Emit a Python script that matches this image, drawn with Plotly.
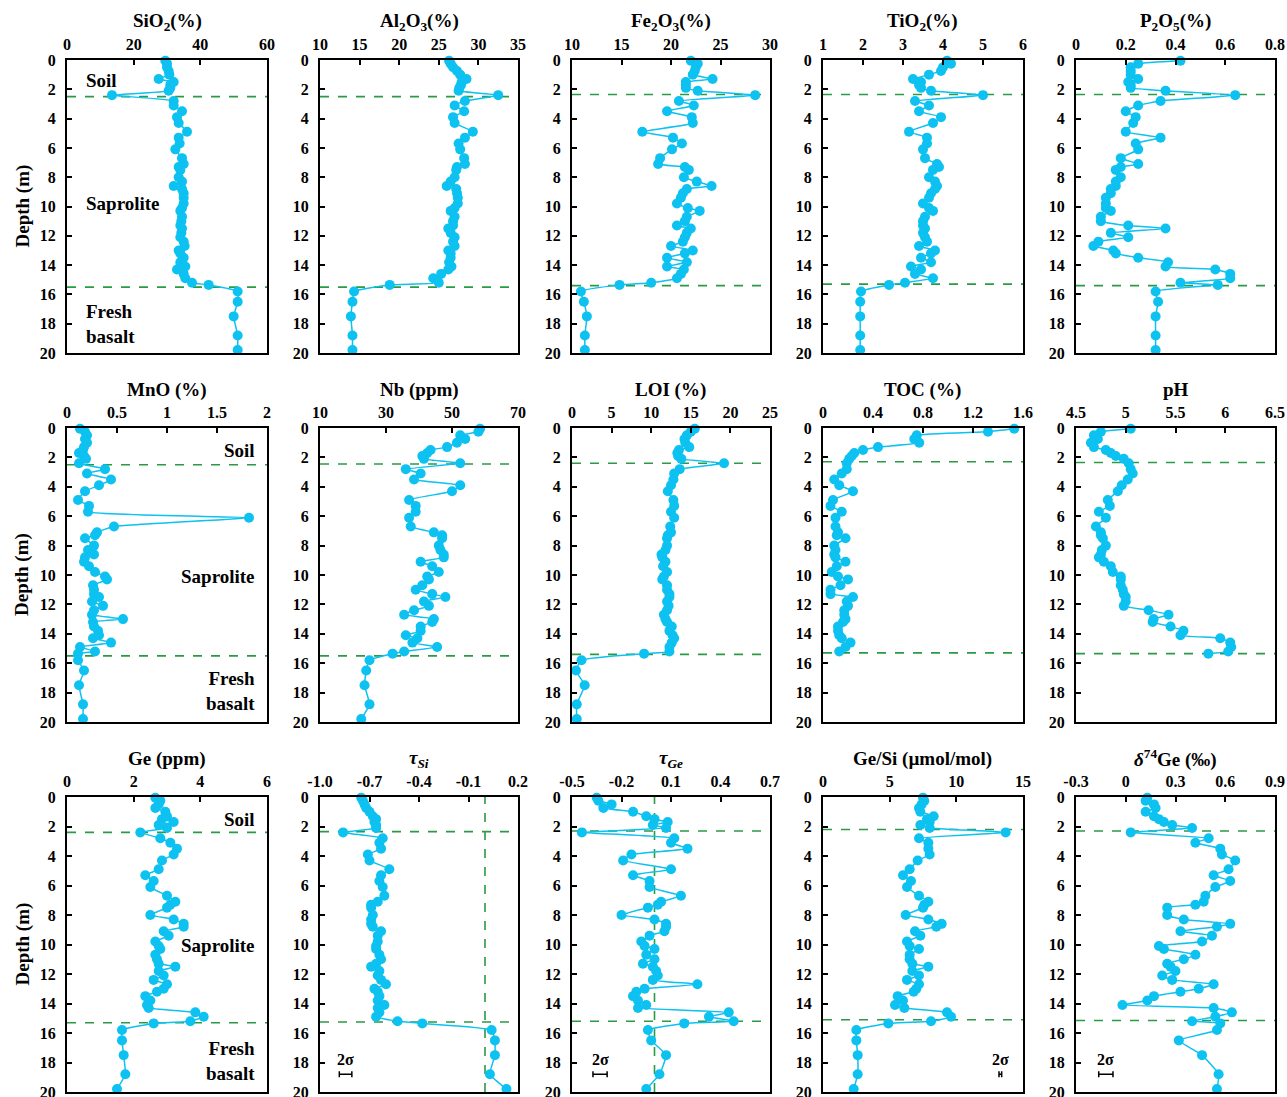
import plotly.graph_objects as go

W, H = 1287, 1097

depth = [0.05, 0.25, 0.5, 0.75, 1.0, 1.3, 1.5, 1.7, 1.9, 2.1,
         2.4, 2.8, 3.1, 3.5, 3.9, 4.3, 4.9, 5.3, 5.7, 6.1,
         6.7, 7.1, 7.3, 7.5, 8.0, 8.3, 8.6, 8.8, 9.1, 9.4,
         9.8, 10.1, 10.3, 10.7, 11.0, 11.3, 11.5, 11.8, 12.1, 12.4,
         12.7, 13.0, 13.2, 13.5, 13.8, 14.1, 14.3, 14.6, 14.9, 15.2,
         15.35, 15.8, 16.5, 17.5, 18.8, 19.8]

sio2 = [29.5, 30.0, 30.0, 30.5, 30.7, 27.5, 32.0, 31.0, 31.0, 30.5,
        13.5, 32.0, 32.0, 34.5, 33.0, 33.5, 36.0, 33.5, 33.8, 32.5,
        34.5, 35.0, 33.5, 34.0, 33.5, 34.5, 32.0, 34.5, 35.0, 35.0,
        35.0, 34.5, 34.0, 34.5, 34.3, 34.0, 34.5, 34.3, 34.0, 35.0,
        35.3, 33.5, 34.0, 35.0, 34.0, 35.5, 33.0, 35.0, 35.5, 37.5,
        42.5, 51.2, 51.2, 50.0, 51.2, 51.2]

al2o3 = [26.3, 26.5, 26.8, 27.3, 27.7, 28.5, 27.9, 27.8, 27.6, 27.5,
         32.5, 28.3, 27.0, 28.2, 26.8, 27.0, 29.3, 28.3, 27.5, 27.7,
         28.2, 28.3, 27.3, 27.2, 27.0, 26.5, 26.0, 27.2, 27.3, 27.4,
         27.4, 27.0, 26.5, 27.0, 26.8, 26.8, 26.2, 26.5, 27.0, 26.8,
         27.0, 26.2, 26.5, 26.5, 26.3, 26.6, 26.2, 25.3, 24.3, 25.0,
         18.8, 14.3, 14.1, 13.9, 14.1, 14.1]

fe2o3 = [22.0, 22.7, 22.5, 22.4, 22.2, 24.2, 21.5, 21.5, 21.5, 22.7,
         28.5, 20.8, 22.3, 19.6, 22.1, 22.2, 17.1, 20.2, 21.1, 20.1,
         18.9, 18.7, 21.4, 21.8, 21.3, 22.6, 24.1, 21.6, 21.2, 21.0,
         20.6, 21.7, 22.9, 21.6, 21.4, 20.6, 22.0, 21.6, 21.4, 21.2,
         20.0, 22.2, 21.4, 19.6, 21.6, 19.6, 21.3, 21.0, 20.6, 18.0,
         14.8, 10.9, 11.2, 11.5, 11.3, 11.3]

tio2 = [4.1, 4.2, 4.0, 3.95, 3.65, 3.25, 3.45, 3.4, 3.45, 3.7,
        5.0, 3.3, 3.65, 3.4, 3.95, 3.75, 3.15, 3.6, 3.6, 3.5,
        3.55, 3.85, 3.9, 3.75, 3.65, 3.8, 3.85, 3.8, 3.7, 3.65,
        3.5, 3.65, 3.75, 3.55, 3.5, 3.5, 3.55, 3.5, 3.55, 3.6,
        3.4, 3.8, 3.7, 3.45, 3.7, 3.2, 3.45, 3.3, 3.75, 3.05,
        2.65, 1.95, 1.93, 1.93, 1.93, 1.93]

p2o5 = [0.42, 0.25, 0.22, 0.22, 0.22, 0.25, 0.21, 0.22, 0.22, 0.36,
        0.64, 0.34, 0.25, 0.20, 0.24, 0.23, 0.20, 0.34, 0.24, 0.25,
        0.18, 0.25, 0.18, 0.16, 0.18, 0.16, 0.16, 0.14, 0.14, 0.12,
        0.12, 0.12, 0.14, 0.10, 0.10, 0.21, 0.36, 0.14, 0.21, 0.09,
        0.07, 0.15, 0.16, 0.25, 0.37, 0.36, 0.56, 0.62, 0.62, 0.42,
        0.57, 0.32, 0.33, 0.32, 0.32, 0.32]

mno = [0.13, 0.18, 0.20, 0.18, 0.20, 0.17, 0.16, 0.12, 0.17, 0.19,
       0.12, 0.38, 0.20, 0.44, 0.32, 0.18, 0.11, 0.22, 0.21, 1.82,
       0.47, 0.30, 0.28, 0.18, 0.27, 0.21, 0.27, 0.18, 0.17, 0.22,
       0.28, 0.38, 0.40, 0.26, 0.27, 0.27, 0.32, 0.25, 0.36, 0.27,
       0.25, 0.56, 0.26, 0.27, 0.31, 0.32, 0.26, 0.44, 0.13, 0.28,
       0.11, 0.11, 0.17, 0.12, 0.16, 0.16]

nb = [58.5, 58.0, 52.5, 54.0, 51.5, 48.5, 43.5, 42.5, 41.0, 41.5,
      52.5, 36.0, 40.5, 38.5, 52.5, 50.0, 37.0, 39.0, 39.0, 37.0,
      37.5, 44.5, 47.0, 47.0, 46.0, 46.5, 47.5, 47.5, 40.5, 44.0,
      46.0, 42.5, 43.0, 41.0, 39.0, 44.0, 48.0, 41.5, 43.0, 38.5,
      35.5, 44.5, 44.0, 40.5, 40.5, 36.0, 39.5, 38.0, 45.5, 35.5,
      32.0, 25.0, 24.0, 23.5, 25.0, 22.5]

loi = [15.5, 15.0, 14.5, 14.2, 14.3, 14.8, 13.5, 13.3, 13.4, 13.8,
       19.2, 13.6, 12.9, 12.8, 12.5, 12.1, 12.8, 12.9, 12.5, 12.9,
       12.4, 12.5, 12.1, 12.0, 12.0, 11.8, 11.3, 11.4, 11.8, 11.5,
       12.0, 11.6, 11.4, 12.0, 12.0, 12.3, 12.3, 12.0, 12.2, 12.0,
       11.6, 11.8, 12.0, 12.6, 12.3, 12.7, 12.9, 12.6, 12.3, 12.3,
       9.1, 1.2, 0.5, 1.6, 0.6, 0.6]

toc = [1.53, 1.32, 0.75, 0.73, 0.77, 0.44, 0.32, 0.25, 0.23, 0.21,
       0.19, 0.19, 0.15, 0.09, 0.13, 0.24, 0.08, 0.06, 0.15, 0.10,
       0.10, 0.12, 0.11, 0.18, 0.09, 0.10, 0.09, 0.10, 0.18, 0.11,
       0.07, 0.12, 0.20, 0.14, 0.06, 0.06, 0.24, 0.19, 0.20, 0.17,
       0.17, 0.18, 0.16, 0.12, 0.12, 0.13, 0.15, 0.22, 0.18, 0.13,
       None, None, None, None, None, None]

ph = [5.05, 4.75, 4.68, 4.72, 4.65, 4.68, 4.80, 4.85, 4.90, 4.98,
      5.03, 5.05, 5.07, 5.02, 4.96, 4.92, 4.82, 4.84, 4.73, 4.80,
      4.70, 4.75, 4.75, 4.77, 4.80, 4.76, 4.75, 4.73, 4.78, 4.85,
      4.87, 4.95, 4.95, 4.95, 4.97, 4.98, 5.00, 5.00, 4.98, 5.23,
      5.43, 5.28, 5.27, 5.45, 5.58, 5.55, 5.95, 6.05, 6.06, 6.03,
      5.83, None, None, None, None, None]

ge = [2.65, 2.8, 2.75, 2.65, 2.95, 3.0, 2.85, 3.2, 2.75, 3.0,
      2.2, 2.8, 3.1, 3.3, 3.2, 2.85, 2.75, 2.35, 2.6, 2.5,
      3.0, 3.25, 3.1, 3.0, 2.5, 3.2, 3.5, 3.5, 2.9, 3.05,
      2.65, 2.75, 2.8, 2.65, 2.7, 2.75, 3.25, 2.75, 2.9, 2.6,
      3.0, 2.9, 2.7, 2.35, 2.5, 2.4, 2.45, 3.85, 4.1, 3.7,
      2.6, 1.65, 1.65, 1.7, 1.75, 1.5]

tau_si = [-0.75, -0.74, -0.73, -0.72, -0.70, -0.68, -0.66, -0.67, -0.66, -0.66,
          -0.86, -0.62, -0.64, -0.63, -0.71, -0.70, -0.58, -0.63, -0.64, -0.62,
          -0.61, -0.65, -0.69, -0.69, -0.68, -0.69, -0.69, -0.68, -0.63, -0.65,
          -0.65, -0.66, -0.66, -0.64, -0.63, -0.66, -0.69, -0.64, -0.65, -0.63,
          -0.60, -0.67, -0.65, -0.64, -0.65, -0.61, -0.65, -0.64, -0.66, -0.53,
          -0.38, 0.04, 0.06, 0.06, 0.03, 0.13]

tau_ge = [-0.35, -0.34, -0.26, -0.31, -0.13, -0.05, 0.0, 0.08, -0.01, 0.07,
          -0.44, 0.12, 0.10, 0.20, -0.14, -0.19, 0.10, -0.13, -0.03, -0.03,
          0.16, 0.04, 0.02, -0.04, -0.20, 0.0, 0.07, 0.07, 0.06, -0.03,
          -0.08, -0.06, 0.0, -0.05, 0.0, -0.07, -0.01, 0.01, 0.02, -0.01,
          0.26, -0.06, -0.11, -0.13, -0.10, -0.05, -0.10, 0.45, 0.33, 0.48,
          0.18, -0.04, -0.02, 0.07, 0.03, -0.05]

ge_si = [7.5, 7.6, 7.4, 7.2, 7.3, 8.3, 7.8, 8.0, 7.3, 8.0,
         13.7, 7.2, 7.9, 7.9, 8.0, 7.1, 6.5, 6.0, 6.6, 6.3,
         7.2, 7.9, 7.6, 7.5, 6.2, 7.9, 8.9, 8.5, 6.9, 7.3,
         6.3, 6.5, 7.2, 6.5, 6.5, 6.7, 7.9, 6.7, 7.2, 6.3,
         7.2, 7.0, 6.8, 5.6, 6.0, 5.4, 6.1, 9.3, 9.6, 8.1,
         4.9, 2.5, 2.5, 2.6, 2.6, 2.3]

d74ge = [0.13, 0.12, 0.17, 0.18, 0.12, 0.17, 0.20, 0.23, 0.28, 0.40,
         0.03, 0.50, 0.42, 0.57, 0.58, 0.66, 0.62, 0.53, 0.63, 0.54,
         0.48, 0.47, 0.42, 0.25, 0.25, 0.35, 0.63, 0.55, 0.33, 0.52,
         0.46, 0.20, 0.23, 0.42, 0.35, 0.25, 0.27, 0.30, 0.22, 0.28,
         0.53, 0.44, 0.33, 0.17, 0.13, -0.02, 0.53, 0.64, 0.54, 0.40,
         0.57, 0.55, 0.32, 0.46, 0.56, 0.55]

titles = ["SiO<sub>2</sub>(%)", "Al<sub>2</sub>O<sub>3</sub>(%)", "Fe<sub>2</sub>O<sub>3</sub>(%)",
          "TiO<sub>2</sub>(%)", "P<sub>2</sub>O<sub>5</sub>(%)",
          "MnO (%)", "Nb (ppm)", "LOI (%)", "TOC (%)", "pH",
          "Ge (ppm)", "<i>τ</i><sub><i>Si</i></sub>", "<i>τ</i><sub><i>Ge</i></sub>",
          "Ge/Si (µmol/mol)", "<i>δ</i><sup>74</sup>Ge (‰)"]
series = [sio2, al2o3, fe2o3, tio2, p2o5, mno, nb, loi, toc, ph,
          ge, tau_si, tau_ge, ge_si, d74ge]
x_ticks = [[0, 20, 40, 60], [10, 15, 20, 25, 30, 35], [10, 15, 20, 25, 30],
           [1, 2, 3, 4, 5, 6], [0, 0.2, 0.4, 0.6, 0.8],
           [0, 0.5, 1, 1.5, 2], [10, 30, 50, 70], [0, 5, 10, 15, 20, 25],
           [0, 0.4, 0.8, 1.2, 1.6], [4.5, 5, 5.5, 6, 6.5],
           [0, 2, 4, 6], [-1.0, -0.7, -0.4, -0.1, 0.2], [-0.5, -0.2, 0.1, 0.4, 0.7],
           [0, 5, 10, 15], [-0.3, 0, 0.3, 0.6, 0.9]]
x_ticktext = [["0", "20", "40", "60"], ["10", "15", "20", "25", "30", "35"],
              ["10", "15", "20", "25", "30"], ["1", "2", "3", "4", "5", "6"],
              ["0", "0.2", "0.4", "0.6", "0.8"],
              ["0", "0.5", "1", "1.5", "2"], ["10", "30", "50", "70"],
              ["0", "5", "10", "15", "20", "25"], ["0", "0.4", "0.8", "1.2", "1.6"],
              ["4.5", "5", "5.5", "6", "6.5"],
              ["0", "2", "4", "6"], ["-1.0", "-0.7", "-0.4", "-0.1", "0.2"],
              ["-0.5", "-0.2", "0.1", "0.4", "0.7"], ["0", "5", "10", "15"],
              ["-0.3", "0", "0.3", "0.6", "0.9"]]
soil_base = [2.5, 2.5, 2.35, 2.35, 2.35, 2.5, 2.45, 2.4, 2.3, 2.35, 2.4, 2.35, 2.3, 2.2, 2.3]
basalt_top = [15.5, 15.5, 15.4, 15.3, 15.4, 15.5, 15.5, 15.4, 15.3, 15.35, 15.3, 15.25, 15.2, 15.1, 15.15]
depth_ticks = [0, 2, 4, 6, 8, 10, 12, 14, 16, 18, 20]

# 2-sigma bars: panel number, x centre, half width
sigma_panels = [12, 13, 14, 15]
sigma_x = [-0.845, -0.33, 13.3, -0.12]
sigma_half = [0.038, 0.043, 0.1, 0.043]
sigma_depth = 18.8

# vertical zero lines (tau panels)
zero_panels = [12, 13]

FONT = "Liberation Serif"
BLUE = "#0DC1F1"
GREEN = "#2A9A44"

col_l = [67, 320, 572, 823, 1076]
col_r = [267, 518, 770, 1023, 1275]
row_t = [60, 428, 797]
row_b = [353, 722, 1092]

fig = go.Figure()
layout = dict(width=W, height=H, margin=dict(l=0, r=0, t=0, b=0, autoexpand=False),
              plot_bgcolor="white", paper_bgcolor="white", showlegend=False)
shapes, annotations = [], []

for i in range(15):
    r, c = divmod(i, 5)
    n = i + 1
    sx = "" if n == 1 else str(n)
    xdom = [col_l[c] / W, col_r[c] / W]
    ydom = [1 - row_b[r] / H, 1 - row_t[r] / H]
    tv = x_ticks[i]
    layout["xaxis" + sx] = dict(
        domain=xdom, anchor="y" + sx, side="top", range=[tv[0], tv[-1]],
        tickvals=tv, ticktext=x_ticktext[i], ticks="inside", ticklen=5, tickwidth=1.5,
        tickcolor="black", showline=True, linewidth=2, linecolor="black", mirror=True,
        showgrid=False, zeroline=False, ticklabelstandoff=2, automargin=False,
        ticklabeloverflow="allow",
        tickfont=dict(family=FONT, size=16, color="black", weight="bold"))
    layout["yaxis" + sx] = dict(
        domain=ydom, anchor="x" + sx, range=[20, 0], tickvals=depth_ticks,
        ticks="inside", ticklen=5, tickwidth=1.5, tickcolor="black",
        showline=True, linewidth=2, linecolor="black", mirror=True,
        showgrid=False, zeroline=False, ticklabelstandoff=6, automargin=False,
        ticklabeloverflow="allow",
        tickfont=dict(family=FONT, size=16, color="black", weight="bold"))
    fig.add_trace(go.Scatter(
        x=series[i], y=depth, xaxis="x" + sx, yaxis="y" + sx, mode="lines+markers",
        line=dict(color=BLUE, width=1.5, shape="spline", smoothing=0.4),
        marker=dict(color=BLUE, size=10), connectgaps=False, hoverinfo="skip",
        cliponaxis=False))
    for d in (soil_base[i], basalt_top[i]):
        shapes.append(dict(type="line", xref="x" + sx + " domain", yref="y" + sx,
                           x0=0, x1=1, y0=d, y1=d,
                           line=dict(color=GREEN, width=1.6, dash="dash"), layer="below"))
    if n in zero_panels:
        shapes.append(dict(type="line", xref="x" + sx, yref="y" + sx + " domain",
                           x0=0, x1=0, y0=0, y1=1,
                           line=dict(color=GREEN, width=1.6, dash="dash"), layer="below"))
    annotations.append(dict(text=titles[i], xref="paper", yref="paper",
                            x=(xdom[0] + xdom[1]) / 2, y=1 - (row_t[r] - 38) / H,
                            showarrow=False, xanchor="center", yanchor="middle",
                            font=dict(family=FONT, size=19, color="black", weight="bold")))

for k, p in enumerate(sigma_panels):
    sx = str(p)
    fig.add_trace(go.Scatter(
        x=[sigma_x[k]], y=[sigma_depth], xaxis="x" + sx, yaxis="y" + sx, mode="markers",
        marker=dict(size=1, color="black"),
        error_x=dict(type="constant", value=sigma_half[k], color="black", thickness=1.5, width=3),
        hoverinfo="skip"))
    annotations.append(dict(text="2σ", xref="x" + sx, yref="y" + sx, x=sigma_x[k], y=sigma_depth,
                            yshift=4, showarrow=False, xanchor="center", yanchor="bottom",
                            font=dict(family=FONT, size=16, color="black", weight="bold")))

# Depth labels
for r in range(3):
    annotations.append(dict(text="Depth (m)", xref="paper", yref="paper", x=22 / W,
                            y=1 - (row_t[r] + row_b[r]) / 2 / H, textangle=-90, showarrow=False,
                            xanchor="center", yanchor="middle",
                            font=dict(family=FONT, size=19, color="black", weight="bold")))

# Zone labels
zfont = dict(family=FONT, size=19, color="black", weight="bold")
annotations += [
    dict(text="Soil", xref="x domain", yref="y", x=0.085, y=1.4, xanchor="left", yanchor="middle",
         showarrow=False, font=zfont),
    dict(text="Saprolite", xref="x domain", yref="y", x=0.085, y=9.8, xanchor="left", yanchor="middle",
         showarrow=False, font=zfont),
    dict(text="Fresh<br>basalt", xref="x domain", yref="y", x=0.085, y=18.0, xanchor="left",
         yanchor="middle", align="left", showarrow=False, font=zfont),
]
for sx in ("6", "11"):
    annotations += [
        dict(text="Soil", xref="x" + sx + " domain", yref="y" + sx, x=0.95, y=1.5, xanchor="right",
             yanchor="middle", showarrow=False, font=zfont),
        dict(text="Saprolite", xref="x" + sx + " domain", yref="y" + sx, x=0.95, y=10.1,
             xanchor="right", yanchor="middle", showarrow=False, font=zfont),
        dict(text="Fresh<br>basalt", xref="x" + sx + " domain", yref="y" + sx, x=0.95, y=17.9,
             xanchor="right", yanchor="middle", align="right", showarrow=False, font=zfont),
    ]

layout["shapes"] = shapes
layout["annotations"] = annotations
fig.update_layout(**layout)
fig.write_html("out.html",
               post_script="document.body.style.margin='0';document.body.style.overflow='hidden';")
